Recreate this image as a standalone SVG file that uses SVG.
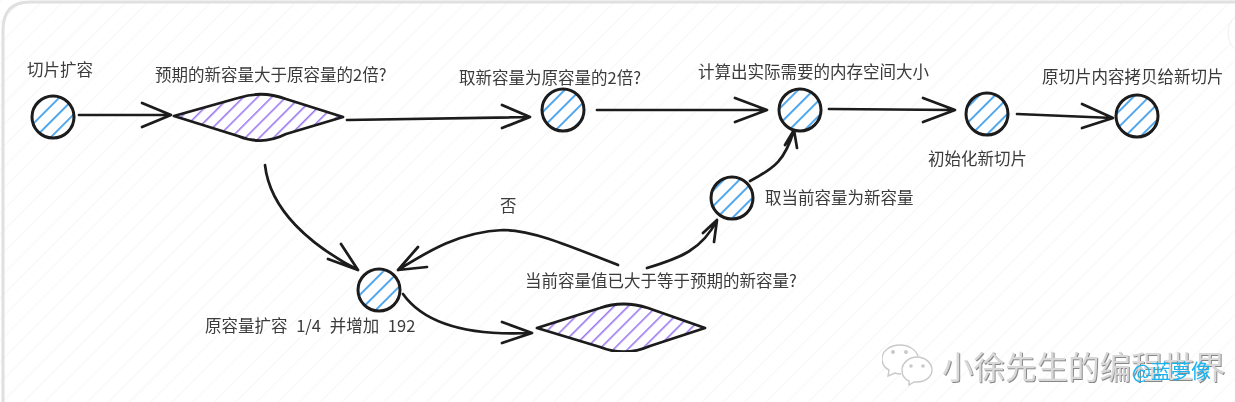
<svg xmlns="http://www.w3.org/2000/svg" width="1235" height="402" viewBox="0 0 1235 402">
<style>
text{font-family:"Noto Sans CJK SC","Liberation Sans",sans-serif;font-size:16.5px;fill:#3a3a3a}
.c{fill:url(#hb);stroke:#1a1a1a;stroke-width:3}
.d{fill:url(#hp);stroke:#1a1a1a;stroke-width:2.8;stroke-linejoin:round}
.l{fill:none;stroke:#1a1a1a;stroke-width:2.7;stroke-linecap:round;stroke-linejoin:round}
.e{fill:#fff;stroke:#c9c9c9;stroke-width:1.4}
.o{fill:#c9c9c9}
</style>
<defs>
<pattern id="bg" width="15" height="15" patternUnits="userSpaceOnUse" patternTransform="rotate(45)"><rect width="1.6" height="15" fill="#f9f9f9"/></pattern>
<pattern id="hb" width="11" height="11" patternUnits="userSpaceOnUse" patternTransform="rotate(45)"><rect width="11" height="11" fill="#fff"/><rect width="1.9" height="11" fill="#4aa3ea"/></pattern>
<pattern id="hp" width="10" height="10" patternUnits="userSpaceOnUse" patternTransform="rotate(45)"><rect width="10" height="10" fill="#fff"/><rect width="1.6" height="10" fill="#9a78ee"/></pattern>
<filter id="soft" x="0" y="0" width="100%" height="100%"><feGaussianBlur stdDeviation="0.45"/></filter>
<filter id="emboss" x="-5%" y="-5%" width="110%" height="110%"><feDropShadow dx="1" dy="1" stdDeviation="0.5" flood-color="#888"/></filter>
</defs>
<rect width="1235" height="402" fill="#fff"/>
<rect width="1235" height="402" fill="url(#bg)"/>
<path d="M3 402V30Q3 2 30 2H1235" fill="none" stroke="#e0e0e0" stroke-width="3"/>
<circle cx="1250" cy="33" r="22" fill="#fff" stroke="#f0f0f0"/>
<g filter="url(#soft)">
<g id="connectors">
<path class="l" d="M79 115H171M142 103L171 115L142 127"/>
<path class="l" d="M347 120L530 117M502 105L530 117L502 128"/>
<path class="l" d="M597 110L767 110M735 98L767 110L735 122"/>
<path class="l" d="M829 109L955 110M923 98L955 110L923 122"/>
<path class="l" d="M1017 114L1113 118M1082 104L1113 118L1082 128"/>
<path class="l" d="M265 165C270 210 310 245 358 270M328 259L358 270L341 244"/>
<path class="l" d="M618 265C560 242 530 230 503 230C460 232 430 250 398 270M418 247L398 270L427 267"/>
<path class="l" d="M647 268C680 258 702 250 717 220M703 233L717 220L714 242"/>
<path class="l" d="M750 181C775 168 785 160 794 130M785 145L794 130L797 148"/>
<path class="l" d="M403 294C425 325 470 336 532 333M502 322L532 333L502 343"/>
</g>
<g id="n1"><text x="27" y="76">切片扩容</text><circle class="c" cx="53" cy="117" r="21"/></g>
<g id="d1"><text x="155" y="81">预期的新容量大于原容量的2倍?</text><path class="d" d="M174 116L238 98Q262 90 286 99L343 117L286 134Q262 146 238 136Z"/></g>
<g id="n2"><text x="459" y="84">取新容量为原容量的2倍?</text><circle class="c" cx="563" cy="110" r="21"/></g>
<g id="n3"><text x="698" y="78">计算出实际需要的内存空间大小</text><circle class="c" cx="800" cy="110" r="21"/></g>
<g id="n4"><text x="928" y="165">初始化新切片</text><circle class="c" cx="987" cy="114" r="21"/></g>
<g id="n5"><text x="1042" y="83">原切片内容拷贝给新切片</text><circle class="c" cx="1137" cy="116" r="21"/></g>
<g id="n6"><text x="765" y="204">取当前容量为新容量</text><circle class="c" cx="732" cy="198" r="21"/></g>
<g id="n7"><text x="205" y="332" word-spacing="5">原容量扩容 1/4 并增加 192</text><circle class="c" cx="379" cy="290" r="21"/></g>
<g id="d2"><text x="525" y="287">当前容量值已大于等于预期的新容量?</text><path class="d" d="M537 328L600 308Q623 300 648 308L705 328L650 346Q625 357 600 347Z"/></g>
<text x="500" y="212">否</text>
</g>
<g id="wm" filter="url(#soft)">
<path class="e" d="M900 345c-10 0-18 6-18 14 0 5 3 9 7 11l-1 6 7-3c2 1 4 1 6 1 M900 345c9 0 16 5 18 11"/>
<path class="e" d="M902 370c0-7 7-13 15-13s15 6 15 13-7 12-15 12l-3 0-5 3 0-4c-5-2-7-6-7-11z"/>
<circle class="o" cx="893" cy="352" r="2"/><circle class="o" cx="906" cy="352" r="2"/><circle class="o" cx="911" cy="366" r="1.8"/><circle class="o" cx="923" cy="366" r="1.8"/>
<text x="942" y="379" style="font-size:31.5px;fill:#d8d8d8" filter="url(#emboss)">小徐先生的编程世界</text>
<text x="1132" y="379" style="font-size:20px;fill:#1ab4f0">@蓝夢像</text>
</g>
</svg>
